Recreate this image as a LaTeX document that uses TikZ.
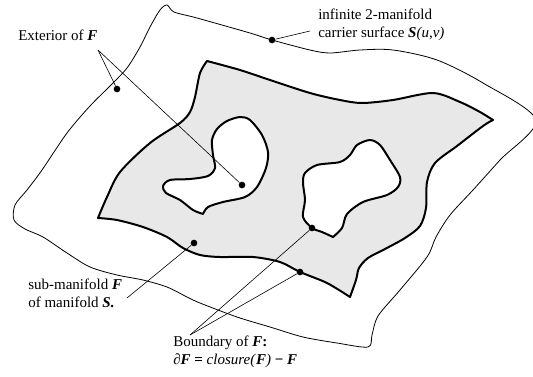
\documentclass[tikz,border=0pt]{standalone}
\usepackage{fontspec}
\setmainfont{Liberation Serif}
\usetikzlibrary{positioning, backgrounds, calc}

\newcommand{\Fb}{\textbf{\textit{F}}}
\newcommand{\Sb}{\textbf{\textit{S}}}

\begin{document}
\begin{tikzpicture}[
  x=0.75pt, y=-0.75pt,
  every node/.style={font=\fontsize{11.25}{13}\selectfont},
  surface/.style={draw=black, line width=0.6pt},
  region/.style={draw=black, line width=1.5pt, fill=black!9, even odd rule, line join=round},
  dot/.style={circle, fill=black, inner sep=0pt, minimum size=5pt},
  leader/.style={draw=black, line width=0.45pt},
  note/.style={anchor=base west, align=left, inner sep=0pt}
]
\useasboundingbox (0,0) rectangle (533,376);

% ===== CARRIER SURFACE S =====
\path[surface] plot[smooth cycle] coordinates {
  (167,5) (174,12) (197,18) (250,33) (272,40) (310,50) (330,53) (360,50)
  (393,50) (437,60) (483,83) (536,120) (500,160) (473,190) (450,215)
  (436,237) (427,257) (400,290) (378,316) (372,335) (368,347) (337,343)
  (303,337) (270,327) (237,317) (200,303) (187,297) (167,287) (143,280)
  (117,275) (90,267) (67,253) (43,237) (25,229) (14,220) (15,205) (27,190)
  (42,170) (67,133) (90,106) (111,85) (127,68) (140,47) (150,27) (160,10)};

% ===== SUB-MANIFOLD F (with two holes) =====
\path[region]
  plot[smooth] coordinates {(207,61) (240,70) (270,80) (310,93) (340,100)
    (362,103) (393,100) (433,93) (460,102) (480,112) (493,120)}
  -- plot[smooth] coordinates {(493,120) (483,126) (457,146) (435,163)
    (427,182) (426,208) (420,226) (405,238) (385,249) (368,258) (359,268)
    (356,280) (350,297)}
  -- plot[smooth] coordinates {(350,297) (327,283) (300,272) (280,262)
    (253,257) (220,257) (200,255) (183,248) (167,237) (143,227) (117,220)
    (98,218)}
  -- plot[smooth] coordinates {(98,218) (107,197) (120,172) (150,143)
    (180,123) (190,112) (195,97) (200,73) (207,61)}
  -- cycle
  % hole 1
  plot[smooth] coordinates {(203,214) (208,207) (223,202) (245,197) (257,187)
    (266,168) (268,152) (262,135) (250,120) (240,117) (227,121) (217,129)
    (212,140) (213,155) (215,168) (208,176) (190,179) (170,180) (163,186)
    (166,193) (180,200) (193,210) (203,214)} -- cycle
  % hole 2
  plot[smooth] coordinates {(333,237) (342,228) (347,214) (363,202) (387,195)
    (398,187) (400,177) (390,160) (380,145) (370,140) (357,145) (350,155)
    (340,162) (317,165) (305,173) (303,183) (305,200) (303,217) (312,228)
    (322,232) (333,237)} -- cycle;

% ===== DOTS =====
\node[dot] (dext) at (117,89) {};
\node[dot] (dhole) at (242,185) {};
\node[dot] (dsurf) at (272,40) {};
\node[dot] (dsub) at (194,243) {};
\node[dot] (dbnd) at (300,272) {};
\node[dot] (dhole2) at (312,228) {};

% ===== LABELS =====
% multi-line notes sit on the baseline of their last line
\node[note] (extlbl) at (18,40) {Exterior of \Fb};
\node[note] (surflbl) at (318,37) {infinite 2-manifold\\carrier surface \Sb\textit{(u,v)}};
\node[note] (sublbl) at (28,307) {sub-manifold \Fb\\of manifold \textbf{\textit{S.}}};
\node[note] (bndlbl) at (173,364) {Boundary of \Fb\textbf{:}\\∂\Fb{} \textbf{=} \textit{closure(}\Fb\textit{)} \textbf{−} \Fb};

% ===== LEADERS =====
\coordinate (extfork) at (98,50);
\coordinate (surffork) at (310,31);
\coordinate (subfork) at (127,298);
\coordinate (bndfork) at (190,335);
\draw[leader] (extfork) -- (dext);
\draw[leader] (extfork) -- (dhole);
\draw[leader] (surffork) -- (dsurf);
\draw[leader] (subfork) -- (dsub);
\draw[leader] (bndfork) -- (dbnd);
\draw[leader] (bndfork) -- (dhole2);
\end{tikzpicture}
\end{document}
